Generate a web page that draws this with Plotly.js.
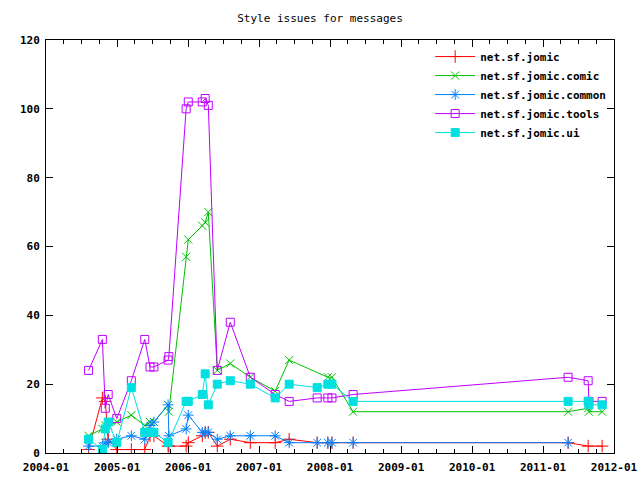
<!DOCTYPE html>
<html>
<head>
<meta charset="utf-8">
<script src="https://cdn.plot.ly/plotly-3.0.1.min.js"></script>
<style>html,body{margin:0;padding:0;background:#fff}#chart{width:640px;height:480px}</style>
</head>
<body>
<div id="chart"></div>
<script>
// Analysis dates (x) and per-package counts (y)
var datesJomic = ["2004-08-07","2004-10-17","2004-11-01","2004-11-16","2004-12-30","2005-03-15","2005-05-23","2005-06-19","2005-07-09","2005-09-20","2005-09-24","2005-12-22","2006-01-02","2006-03-15","2006-03-30","2006-04-15","2006-05-31","2006-08-06","2006-11-17","2007-03-25","2007-06-05","2007-10-27","2007-12-21","2008-01-11","2008-04-29","2011-05-10","2011-08-21","2011-11-01"];
var valsJomic  = [1,16,15,4,1,1,1,5,5,2,2,2,3,5,6,6,2,4,3,3,4,3,3,3,3,3,2,2];

var datesComic = ["2004-08-07","2004-10-17","2004-11-01","2004-11-16","2004-12-30","2005-03-15","2005-05-23","2005-06-19","2005-07-09","2005-09-20","2005-09-24","2005-12-22","2006-01-02","2006-03-15","2006-03-30","2006-04-15","2006-05-31","2006-08-06","2006-11-17","2007-03-25","2007-06-05","2007-12-21","2008-01-11","2008-04-29","2011-05-10","2011-08-21","2011-08-25","2011-11-01"];
var valsComic  = [5,7,8,8,9,11,8,9,9,14,12,57,62,66,67,70,24,26,22,18,27,22,22,12,12,13,12,12];

var datesCommon = ["2004-08-07","2004-10-17","2004-11-01","2004-11-16","2004-12-30","2005-03-15","2005-05-23","2005-06-19","2005-07-09","2005-09-20","2005-09-24","2005-12-22","2006-01-02","2006-03-15","2006-03-30","2006-04-15","2006-05-31","2006-08-06","2006-11-17","2007-03-25","2007-06-05","2007-10-27","2007-12-21","2008-01-11","2008-04-29","2011-05-10"];
var valsCommon  = [2,2,3,3,4,5,4,8,9,14,5,7,11,6,6,6,4,5,5,5,3,3,3,3,3,3];

var datesTools = ["2004-08-07","2004-10-17","2004-11-01","2004-11-16","2004-12-30","2005-03-15","2005-05-23","2005-06-19","2005-07-09","2005-09-20","2005-09-24","2005-12-22","2006-01-02","2006-03-15","2006-03-30","2006-04-15","2006-05-31","2006-08-06","2006-11-17","2007-03-25","2007-06-05","2007-10-27","2007-12-21","2008-01-11","2008-04-29","2011-05-10","2011-08-21","2011-08-25","2011-11-01"];
var valsTools  = [24,33,13,17,10,21,33,25,25,27,28,100,102,102,103,101,24,38,22,17,15,16,16,16,17,22,21,15,15];

var datesUi = ["2004-08-07","2004-10-17","2004-11-01","2004-11-16","2004-12-30","2005-03-15","2005-05-23","2005-06-19","2005-07-09","2005-09-20","2005-12-22","2006-01-02","2006-03-15","2006-03-30","2006-04-15","2006-05-31","2006-08-06","2006-11-17","2007-03-25","2007-06-05","2007-10-27","2007-12-21","2008-01-11","2008-04-29","2011-05-10","2011-08-21","2011-08-25","2011-11-01"];
var valsUi  = [4,1,7,9,3,19,6,6,6,3,15,15,17,23,14,20,21,20,16,20,19,20,20,15,15,15,14,14];

var seriesNames = ["net.sf.jomic","net.sf.jomic.comic","net.sf.jomic.common","net.sf.jomic.tools","net.sf.jomic.ui"];
var xTickFormat = "%Y-%m";

function tr(x, y, name, color, symbol, size) {
  return {
    type: "scatter", mode: "lines+markers", x: x, y: y, name: name,
    line: {color: color, width: 1},
    marker: {symbol: symbol, size: size, color: color, line: {color: color, width: 1}}
  };
}

var data = [
  tr(datesJomic, valsJomic, seriesNames[0], "#ff0000", "cross-thin-open", 9),
  tr(datesComic, valsComic, seriesNames[1], "#00c000", "x-thin-open", 8),
  tr(datesCommon, valsCommon, seriesNames[2], "#0080ff", "asterisk-open", 9),
  tr(datesTools, valsTools, seriesNames[3], "#c000ff", "square-open", 8),
  tr(datesUi, valsUi, seriesNames[4], "#00e0e0", "square", 8)
];

var tickFont = {family: "DejaVu Sans Mono, monospace", size: 11, color: "#000", weight: "bold"};

var layout = {
  width: 640, height: 480,
  margin: {l: 46, r: 26, t: 40, b: 27, pad: 0},
  paper_bgcolor: "#fff", plot_bgcolor: "#fff",
  title: {text: "Style issues for messages", x: 0.5, xanchor: "center", y: 0.962, yanchor: "middle",
          font: {family: "DejaVu Sans Mono, monospace", size: 11, color: "#000"}},
  showlegend: true,
  legend: {x: 0.995, xanchor: "right", y: 0.995, yanchor: "top", bgcolor: "rgba(0,0,0,0)",
           font: tickFont, tracegroupgap: 0, itemwidth: 40},
  xaxis: {
    type: "date", range: ["2004-01-01", "2012-01-01"],
    dtick: "M12", tick0: "2004-01-01", tickformat: xTickFormat,
    ticks: "inside", ticklen: 7, tickcolor: "#000", tickwidth: 1,
    ticklabelstandoff: 4,
    minor: {dtick: "M3", ticks: "inside", ticklen: 4, tickcolor: "#000"},
    showline: true, linecolor: "#000", linewidth: 1, mirror: "allticks",
    showgrid: false, zeroline: false, tickfont: tickFont
  },
  yaxis: {
    range: [0, 120], dtick: 20, tick0: 0,
    ticks: "inside", ticklen: 7, tickcolor: "#000", tickwidth: 1,
    ticklabelstandoff: 3,
    showline: true, linecolor: "#000", linewidth: 1, mirror: "allticks",
    showgrid: false, zeroline: false, tickfont: tickFont
  },
  hovermode: false
};

Plotly.newPlot("chart", data, layout, {displayModeBar: false, staticPlot: true});
</script>
</body>
</html>
